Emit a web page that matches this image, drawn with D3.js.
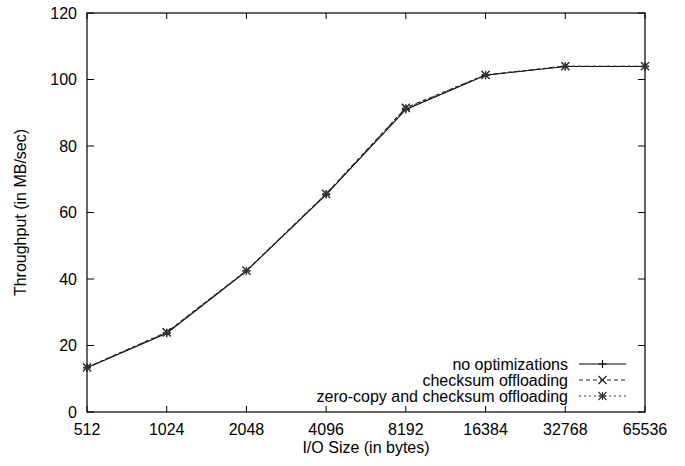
<!DOCTYPE html>
<html><head><meta charset="utf-8">
<script src="https://cdn.jsdelivr.net/npm/d3@7"></script>
<style>body{margin:0;background:#fff}svg{display:block}text{font-family:"Liberation Sans",Arial,sans-serif;fill:#000}</style>
</head><body>
<script>
const categories = ["512","1024","2048","4096","8192","16384","32768","65536"];
const noOpt = [13.3, 23.7, 42.4, 65.4, 91.0, 101.3, 103.9, 103.9];
const checksumOff = [13.4, 24.0, 42.5, 65.6, 91.5, 101.4, 104.0, 104.0];
const zeroCopy = [13.4, 23.9, 42.5, 65.6, 91.4, 101.4, 104.0, 104.0];
const yTicks = [0,20,40,60,80,100,120];
const seriesNames = ["no optimizations","checksum offloading","zero-copy and checksum offloading"];

const W=685,H=466, m={l:87,r:40,t:13,b:54};
const svg=d3.select("body").append("svg").attr("width",W).attr("height",H);
const x=d3.scalePoint().domain(categories).range([m.l,W-m.r]);
const y=d3.scaleLinear().domain([0,120]).range([H-m.b,m.t]);
const fs="16px";
const g=svg.append("g");

const tk="#000";
yTicks.forEach(v=>{
  g.append("line").attr("x1",m.l).attr("x2",m.l+7).attr("y1",y(v)).attr("y2",y(v)).attr("stroke",tk);
  g.append("line").attr("x1",W-m.r).attr("x2",W-m.r-7).attr("y1",y(v)).attr("y2",y(v)).attr("stroke",tk);
  g.append("text").attr("x",m.l-10).attr("y",y(v)).attr("dy","0.36em").attr("text-anchor","end").style("font-size",fs).text(v);
});
categories.forEach(c=>{
  g.append("line").attr("x1",x(c)).attr("x2",x(c)).attr("y1",H-m.b).attr("y2",H-m.b-6).attr("stroke",tk);
  g.append("line").attr("x1",x(c)).attr("x2",x(c)).attr("y1",m.t).attr("y2",m.t+6).attr("stroke",tk);
  g.append("text").attr("x",x(c)).attr("y",434.5).attr("text-anchor","middle").style("font-size",fs).text(c);
});
g.append("rect").attr("x",m.l).attr("y",m.t).attr("width",W-m.r-m.l).attr("height",H-m.b-m.t).attr("fill","none").attr("stroke","#000").attr("stroke-width",1.2);

g.append("text").attr("x",(m.l+W-m.r)/2).attr("y",453).attr("text-anchor","middle").style("font-size",fs).text("I/O Size (in bytes)");
g.append("text").attr("transform",`translate(26,${(m.t+H-m.b)/2}) rotate(-90)`).attr("text-anchor","middle").style("font-size",fs).text("Throughput (in MB/sec)");

const styles=[
  {data:noOpt,dash:null,color:"#000",marker:"plus"},
  {data:checksumOff,dash:"4,3",color:"#222",marker:"cross"},
  {data:zeroCopy,dash:"2,3",color:"#333",marker:"star"}
];
function marker(sel,type,cx,cy,col){
  const s=4;
  const p=d3.path();
  if(type==="plus"||type==="star"){p.moveTo(cx-s,cy);p.lineTo(cx+s,cy);p.moveTo(cx,cy-s);p.lineTo(cx,cy+s);}
  if(type==="cross"||type==="star"){p.moveTo(cx-s,cy-s);p.lineTo(cx+s,cy+s);p.moveTo(cx-s,cy+s);p.lineTo(cx+s,cy-s);}
  sel.append("path").attr("d",p.toString()).attr("stroke",col).attr("stroke-width",1.2).attr("fill","none");
}
const line=d3.line().x((d,i)=>x(categories[i])).y(d=>y(d));
styles.forEach(st=>{
  g.append("path").datum(st.data).attr("d",line).attr("fill","none").attr("stroke",st.color).attr("stroke-width",1.1).attr("stroke-dasharray",st.dash);
  st.data.forEach((d,i)=>marker(g,st.marker,x(categories[i]),y(d),st.color));
});

const ly=[364,380,396];
styles.forEach((st,i)=>{
  g.append("text").attr("x",568).attr("y",ly[i]).attr("dy","0.36em").attr("text-anchor","end").style("font-size",fs).text(seriesNames[i]);
  g.append("line").attr("x1",579).attr("x2",626).attr("y1",ly[i]).attr("y2",ly[i]).attr("stroke",st.color).attr("stroke-width",1.1).attr("stroke-dasharray",st.dash);
  marker(g,st.marker,602.5,ly[i],st.color);
});
</script>
</body></html>
